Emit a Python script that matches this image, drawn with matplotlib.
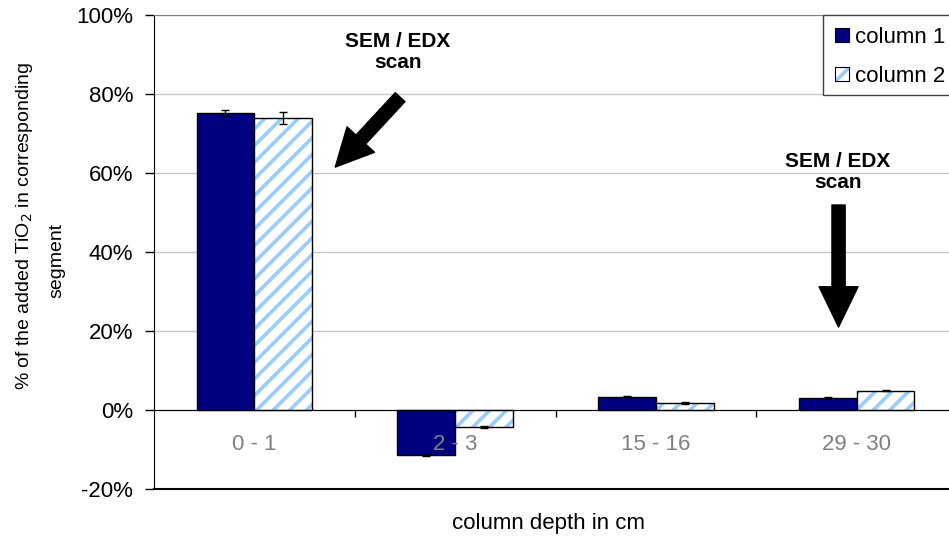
import matplotlib.pyplot as plt
import numpy as np
from matplotlib.patches import Patch, Rectangle

plt.rcParams['font.family'] = ['Liberation Sans', 'DejaVu Sans']
plt.rcParams['hatch.linewidth'] = 2.6

# data (percent of added TiO2)
depths = ['0 - 1', '2 - 3', '15 - 16', '29 - 30']
col1 = [75.2, -11.4, 3.4, 3.0]
col2 = [73.9, -4.3, 1.85, 4.9]
col1_err = [0.7, 0.2, 0.2, 0.2]
col2_err = [1.5, 0.2, 0.3, 0.2]

navy = '#000080'
stripe = '#99ccff'

fig = plt.figure(figsize=(9.49, 5.41), dpi=100)
ax = fig.add_axes([154/949, 1-489/541, (957-154)/949, (489-15)/541])

x = np.arange(len(depths))
w = 0.288

ax.bar(x - w/2, col1, w, color=navy, edgecolor='black', linewidth=1, zorder=2)
# hatched bars: stripes first, then black outline
ax.bar(x + w/2, col2, w, color='white', edgecolor=stripe, hatch='//', linewidth=0, zorder=2)
ax.bar(x + w/2, col2, w, color='none', edgecolor='black', linewidth=1, zorder=2)

ax.errorbar(x - w/2, col1, yerr=col1_err, fmt='none', ecolor='black', capsize=3, elinewidth=1, zorder=2.2)
ax.errorbar(x + w/2, col2, yerr=col2_err, fmt='none', ecolor='black', capsize=3, elinewidth=1, zorder=2.2)

ax.set_xlim(-0.5, 3.5)
ax.set_ylim(-20, 100)
ax.set_yticks(range(-20, 101, 20))
ax.set_yticklabels([f'{v}%' for v in range(-20, 101, 20)], fontsize=16)
ax.tick_params(axis='y', direction='out', length=6.5, width=1, pad=8.5)
ax.yaxis.grid(True, color='#c8c8c8', linewidth=1)
ax.set_axisbelow(True)
ax.xaxis.set_zorder(3)  # category labels sit on top of the bars

# x axis drawn at zero
ax.spines['bottom'].set_position(('data', 0))
ax.spines['right'].set_visible(False)
ax.spines['top'].set_color('#808080')
ax.axhline(-20, color='black', linewidth=1.5, clip_on=False)
ax.set_xticks([0.5, 1.5, 2.5])
ax.set_xticklabels([])
ax.tick_params(axis='x', which='major', direction='out', length=5, width=1)
ax.set_xticks(x, minor=True)
ax.set_xticklabels(depths, minor=True, fontsize=16, color='#808080')
ax.tick_params(axis='x', which='minor', length=0, pad=17)

# annotations
ax.text(0.716, 90.6, 'SEM / EDX\nscan', ha='center', va='center', fontsize=15,
        fontweight='bold', linespacing=1.1)
ax.annotate('', xy=(0.403, 61.5), xytext=(0.726, 79.2),
            arrowprops=dict(facecolor='black', edgecolor='black', width=9.5,
                            headwidth=27, headlength=27, shrink=0))
ax.text(2.906, 60.3, 'SEM / EDX\nscan', ha='center', va='center', fontsize=15,
        fontweight='bold', linespacing=1.1)
ax.annotate('', xy=(2.91, 21.0), xytext=(2.91, 51.9),
            arrowprops=dict(facecolor='black', edgecolor='black', width=9.5,
                            headwidth=28, headlength=29, shrink=0))

# axis labels
fig.text(25/949, 1-226/541, '% of the added TiO$_2$ in corresponding', rotation=90,
         ha='center', va='center', fontsize=14)
fig.text(57/949, 1-260/541, 'segment', rotation=90, ha='center', va='center', fontsize=14)
fig.text(548/949, 1-523/541, 'column depth in cm', ha='center', va='center', fontsize=16)

# legend (box runs off the right edge like the original)
fig.patches.append(Rectangle((823/949, 1-95/541), 150/949, 80/541,
                             transform=fig.transFigure, facecolor='white',
                             edgecolor='#404040', linewidth=1, zorder=4))
h1 = Patch(facecolor=navy, edgecolor='black', linewidth=0.8)
h2 = (Patch(facecolor='white', edgecolor=stripe, hatch='//', linewidth=0),
      Patch(facecolor='none', edgecolor='black', linewidth=0.8))
leg = fig.legend([h1, h2], ['column 1', 'column 2'], loc='upper left',
                 bbox_to_anchor=(823/949, 1-15/541), fontsize=16, frameon=False,
                 handlelength=0.6, handleheight=0.6, handletextpad=0.3,
                 labelspacing=0.8, borderpad=0.55, borderaxespad=0)
leg.set_zorder(5)

fig.savefig('out.png', dpi=100)
